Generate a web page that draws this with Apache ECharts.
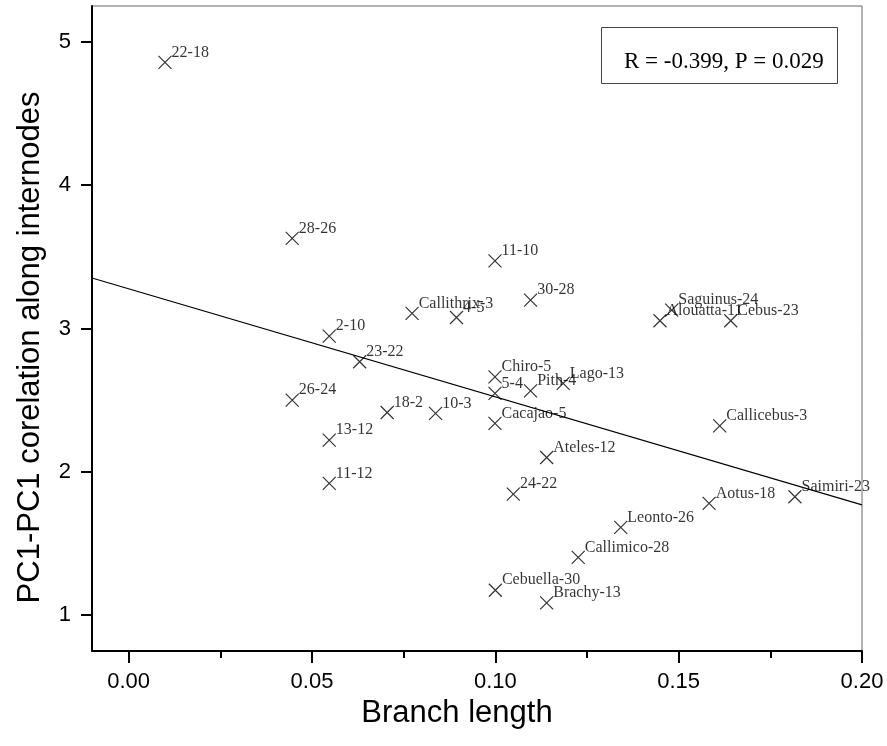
<!DOCTYPE html>
<html><head><meta charset="utf-8">
<script src="https://cdn.jsdelivr.net/npm/echarts@6/dist/echarts.min.js"></script>
<style>html,body{margin:0;padding:0;background:#fff}#c{width:887px;height:746px}</style>
</head><body><div id="c"></div>
<script>
var names = ["22-18","28-26","11-10","30-28","Callithrix-3","4-5","2-10","23-22","Saguinus-24","Alouatta-11","Cebus-23","Chiro-5","5-4","Pith-4","Lago-13","Cacajao-5","Callicebus-3","26-24","18-2","10-3","13-12","11-12","Ateles-12","24-22","Leonto-26","Callimico-28","Cebuella-30","Brachy-13","Aotus-18","Saimiri-23"];
var branchLength = [0.0099,0.0446,0.0999,0.1096,0.0773,0.0894,0.0547,0.0630,0.1481,0.1449,0.1642,0.0999,0.0999,0.1096,0.1185,0.0999,0.1612,0.0446,0.0705,0.0837,0.0547,0.0547,0.1140,0.1049,0.1342,0.1226,0.1000,0.1140,0.1583,0.1817];
var pcCorr = [4.857,3.629,3.472,3.198,3.105,3.077,2.947,2.768,3.128,3.054,3.054,2.663,2.547,2.565,2.617,2.338,2.321,2.500,2.414,2.408,2.221,1.919,2.100,1.844,1.612,1.403,1.174,1.086,1.780,1.826];
var fitX = [-0.01, 0.20];
var fitY = [3.352, 1.770];
var xMajorTicks = [0, 0.05, 0.10, 0.15, 0.20];
var xMinorTicks = [0.025, 0.075, 0.125, 0.175];
var yTicks = [1, 2, 3, 4, 5];
var statText = "R = -0.399, P = 0.029";

var pts = names.map(function(n,i){ return {name:n, value:[branchLength[i], pcCorr[i]]}; });
var fit = fitX.map(function(x,i){ return [x, fitY[i]]; });
var sym = 13;
var chart = echarts.init(document.getElementById('c'));
chart.setOption({
  animation:false,
  grid:{left:92, right:25, top:6, bottom:95, show:true, borderColor:'#666', borderWidth:1},
  xAxis:[{
    type:'value', min:-0.01, max:0.20,
    name:'Branch length', nameLocation:'middle', nameGap:45,
    nameTextStyle:{fontFamily:'Liberation Sans', fontSize:31, color:'#000', padding:[0,40,0,0]},
    axisLine:{onZero:false, lineStyle:{color:'#000', width:2}},
    axisTick:{customValues:xMajorTicks, length:12, lineStyle:{color:'#000', width:2}},
    axisLabel:{customValues:xMajorTicks, margin:20, fontFamily:'Liberation Sans', fontSize:22, color:'#000',
      formatter:function(v){return v.toFixed(2);}},
    splitLine:{show:false}
  },{
    type:'value', min:-0.01, max:0.20, position:'bottom',
    axisLine:{show:false, onZero:false},
    axisTick:{customValues:xMinorTicks, length:7, lineStyle:{color:'#000', width:2}},
    axisLabel:{show:false}, splitLine:{show:false}
  }],
  yAxis:{
    type:'value', min:0.75, max:5.25,
    name:'PC1-PC1 corelation along internodes', nameLocation:'middle', nameGap:46,
    nameTextStyle:{fontFamily:'Liberation Sans', fontSize:31, color:'#000', padding:[0,38,0,0]},
    axisLine:{onZero:false, lineStyle:{color:'#000', width:2}},
    axisTick:{customValues:yTicks, length:11, lineStyle:{color:'#000', width:2}},
    axisLabel:{customValues:yTicks, margin:21, fontFamily:'Liberation Sans', fontSize:22, color:'#000'},
    splitLine:{show:false}
  },
  series:[{
    type:'line', data:fit, showSymbol:false, symbol:'none',
    lineStyle:{color:'#000', width:1.2}, silent:true, z:1
  },{
    type:'scatter', data:pts, symbol:'path://M0,0L10,10M10,0L0,10', symbolSize:sym,
    itemStyle:{color:'transparent', borderColor:'#000', borderWidth:1.2},
    label:{show:true, formatter:'{b}', position:'right', distance:0, offset:[6-sym/2,-10],
      fontFamily:'Liberation Serif', fontSize:16, color:'#000'},
    z:2
  }],
  graphic:[{
    type:'rect', left:601, top:27, shape:{width:236, height:56},
    style:{fill:'#fff', stroke:'#444', lineWidth:1}, z:10
  },{
    type:'text', left:624, top:50,
    style:{text:statText, font:'23px "Liberation Serif"', fill:'#000'}, z:11
  }]
});
</script></body></html>
